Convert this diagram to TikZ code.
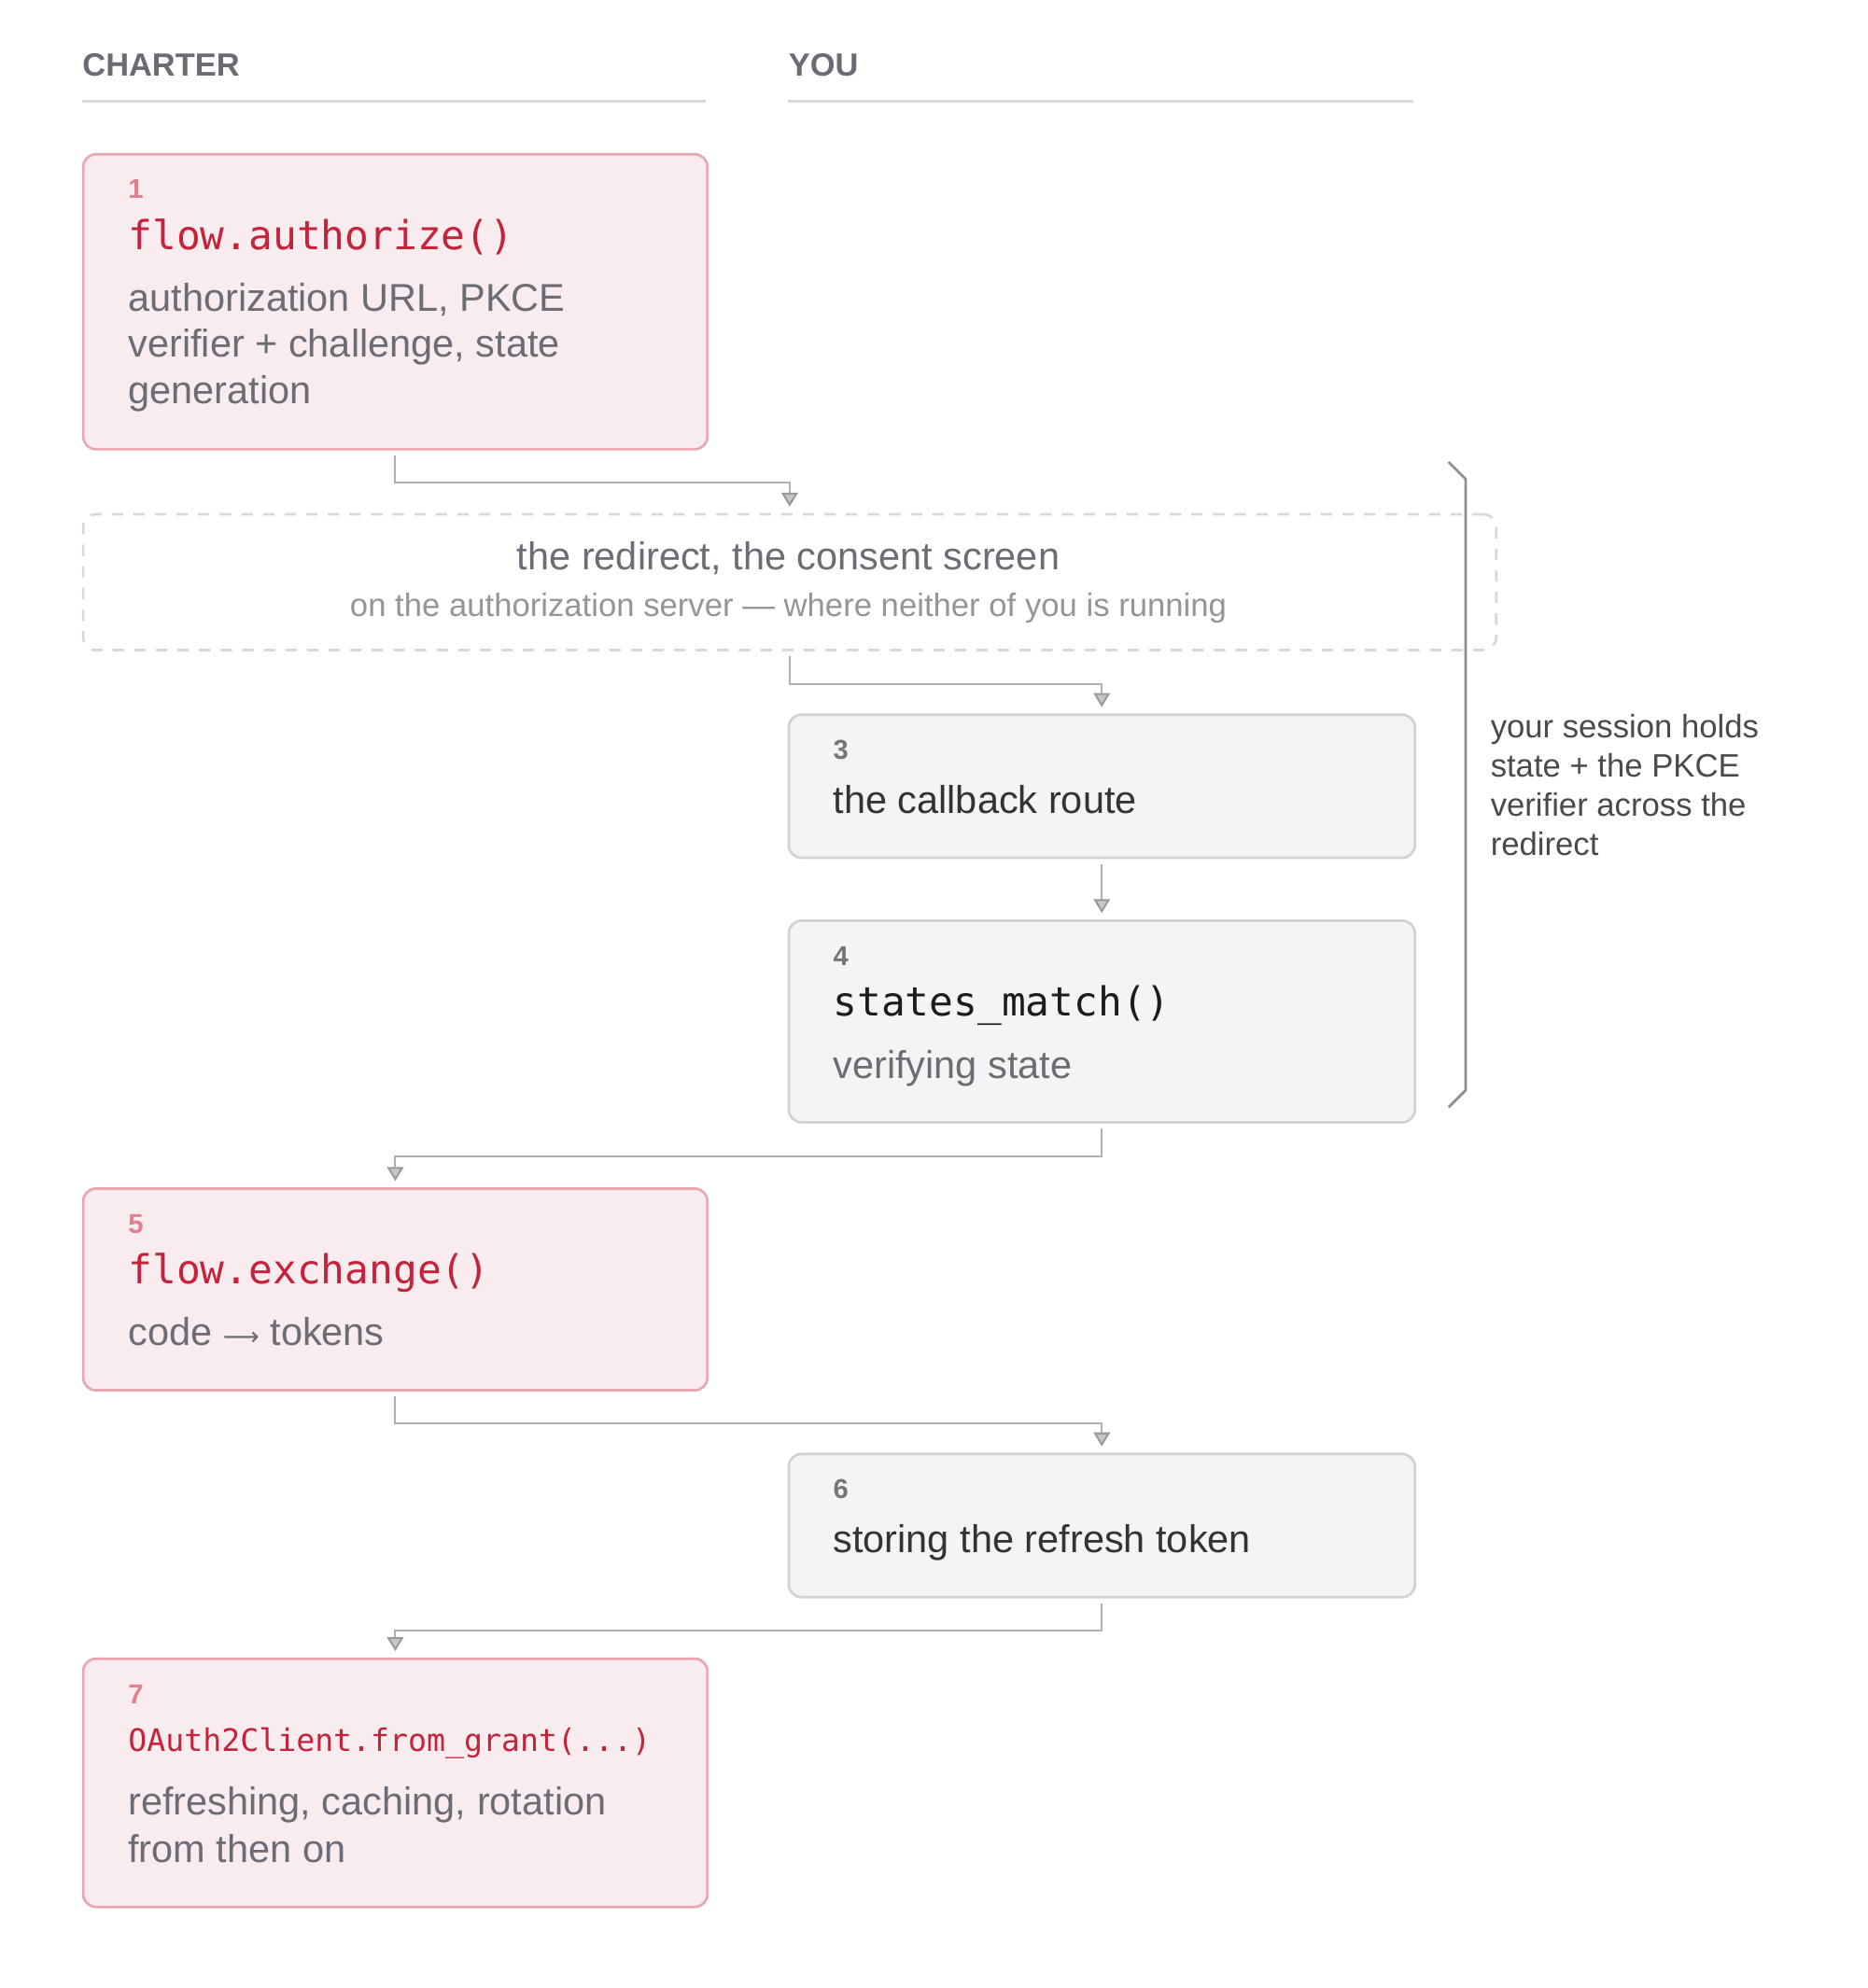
\documentclass[tikz,border=0pt]{standalone}
\usepackage{fontspec}
\setmainfont{Liberation Sans}
\newfontfamily\codefont{DejaVu Sans Mono}
\newfontfamily\arrowfont{DejaVu Sans}
\usetikzlibrary{arrows.meta}
\definecolor{pinkfill}{HTML}{F9ECEF}
\definecolor{pinkline}{HTML}{E8A8B2}
\definecolor{grayfill}{HTML}{F4F4F4}
\definecolor{grayline}{HTML}{D2D2D2}
\definecolor{codered}{HTML}{C5223C}
\definecolor{numpink}{HTML}{E07F8D}
\definecolor{numgray}{HTML}{767676}
\definecolor{bodygray}{HTML}{6C6C76}
\definecolor{subgray}{HTML}{94949B}
\definecolor{darktext}{HTML}{333333}
\definecolor{codeblack}{HTML}{1C1C1C}
\definecolor{headgray}{HTML}{6B6B75}
\definecolor{rulegray}{HTML}{D9D9D9}
\definecolor{dashgray}{HTML}{D8D8D8}
\definecolor{conngray}{HTML}{B0B0B0}
\definecolor{tipgray}{HTML}{9A9A9A}
\definecolor{bracegray}{HTML}{8F8F8F}
\definecolor{sidetext}{HTML}{4A4A4A}
\tikzset{
  pinkbox/.style={draw=pinkline, fill=pinkfill, line width=2pt, rounded corners=10pt,
    inner sep=0pt, minimum width=491.5pt, anchor=north west},
  graybox/.style={draw=grayline, fill=grayfill, line width=2pt, rounded corners=10pt,
    inner sep=0pt, minimum width=493pt, anchor=north west},
  txt/.style={inner sep=0pt, outer sep=0pt, anchor=base west},
  numpk/.style={txt, font=\fontsize{21.5}{24}\selectfont\bfseries, text=numpink},
  numgy/.style={txt, font=\fontsize{21.5}{24}\selectfont\bfseries, text=numgray},
  codetxt/.style={txt, font=\codefont\fontsize{31.5}{36}\selectfont, text=codered},
  codesmall/.style={txt, font=\codefont\fontsize{24.4}{30}\selectfont, text=codered},
  bodytxt/.style={txt, font=\fontsize{30.5}{36}\selectfont, text=bodygray},
  darktxt/.style={txt, font=\fontsize{30.5}{36}\selectfont, text=darktext},
  sidetxt/.style={txt, font=\fontsize{25.5}{30}\selectfont, text=sidetext},
  headtxt/.style={txt, font=\fontsize{25.3}{30}\selectfont\bfseries, text=headgray},
  rule/.style={draw=rulegray, line width=2pt},
  conn/.style={draw=conngray, line width=1.5pt,
    -{Triangle[width=13pt, length=11pt, color=tipgray, fill=tipgray!55]},
    shorten <=4pt, shorten >=5pt},
  bracket/.style={draw=bracegray, line width=2pt}
}
\begin{document}
\begin{tikzpicture}[x=1pt, y=-1pt]
\useasboundingbox (0,0) rectangle (1470,1565.55);

% column headers
\node[headtxt] (hcharter) at (65,60) {CHARTER};
\node[headtxt] (hyou) at (621,60) {YOU};
\draw[rule] (64.5,79.7) -- (556,79.7);
\draw[rule] (620.5,79.7) -- (1113,79.7);

% box 1
\node[pinkbox, minimum height=232.3pt] (b1) at (64.5,120.5) {};
\node[numpk] (n1) at (101,156.3) {1};
\node[codetxt] (c1) at (101,196.5) {flow.authorize()};
\node[bodytxt] (t1a) at (101,245) {authorization URL, PKCE};
\node[bodytxt] (t1b) at (101,281.5) {verifier + challenge, state};
\node[bodytxt] (t1c) at (101,318) {generation};

% redirect (dashed)
\node[draw=dashgray, line width=2pt, dash pattern=on 9pt off 8pt, rounded corners=10pt,
  inner sep=0pt, minimum width=1112.5pt, minimum height=107pt, anchor=north west]
  (redir) at (64.5,404) {};
\node[inner sep=0pt, anchor=base, font=\fontsize{30.5}{36}\selectfont, text=bodygray]
  (rtitle) at (620.75,448.4) {the redirect, the consent screen};
\node[inner sep=0pt, anchor=base, font=\fontsize{25.5}{30}\selectfont, text=subgray]
  (rsub) at (620.75,485.1) {on the authorization server — where neither of you is running};

% box 3
\node[graybox, minimum height=112.7pt] (b3) at (620,561.8) {};
\node[numgy] (n3) at (656,597.8) {3};
\node[darktxt] (t3) at (656,640.7) {the callback route};

% box 4
\node[graybox, minimum height=158.8pt] (b4) at (620,724) {};
\node[numgy] (n4) at (656,760.7) {4};
\node[codetxt, text=codeblack] (c4) at (656,800.4) {states\_match()};
\node[bodytxt] (t4) at (656,849) {verifying state};

% box 5
\node[pinkbox, minimum height=158.8pt] (b5) at (64.5,935) {};
\node[numpk] (n5) at (101,971) {5};
\node[codetxt] (c5) at (101,1011) {flow.exchange()};
\node[bodytxt] (t5) at (101,1059.5) {code {\arrowfont\fontsize{20}{24}\selectfont ⟶} tokens};

% box 6
\node[graybox, minimum height=112.7pt] (b6) at (620,1144) {};
\node[numgy] (n6) at (656,1180) {6};
\node[darktxt] (t6) at (656,1223) {storing the refresh token};

% box 7
\node[pinkbox, minimum height=195.5pt] (b7) at (64.5,1305.2) {};
\node[numpk] (n7) at (101,1341.4) {7};
\node[codesmall] (c7) at (101,1379.4) {OAuth2Client.from\_grant(...)};
\node[bodytxt] (t7a) at (101,1428.9) {refreshing, caching, rotation};
\node[bodytxt] (t7b) at (101,1466.4) {from then on};

% bracket and side note
\draw[bracket] (1140.5,363.8) -- (1154,377.3) -- (1154,858.5) -- (1140.5,872);
\node[sidetxt] (s1) at (1173.6,581.2) {your session holds};
\node[sidetxt] (s2) at (1173.6,611.9) {state + the PKCE};
\node[sidetxt] (s3) at (1173.6,642.6) {verifier across the};
\node[sidetxt] (s4) at (1173.6,673.3) {redirect};

% connectors
\draw[conn] (b1.south) -- ++(0,25.5) -| (redir.north);
\draw[conn] (redir.south) -- ++(0,26) -| (b3.north);
\draw[conn] (b3.south) -- (b4.north);
\draw[conn] (b4.south) -- ++(0,26) -| (b5.north);
\draw[conn] (b5.south) -- ++(0,25) -| (b6.north);
\draw[conn] (b6.south) -- ++(0,25.5) -| (b7.north);
\end{tikzpicture}
\end{document}
